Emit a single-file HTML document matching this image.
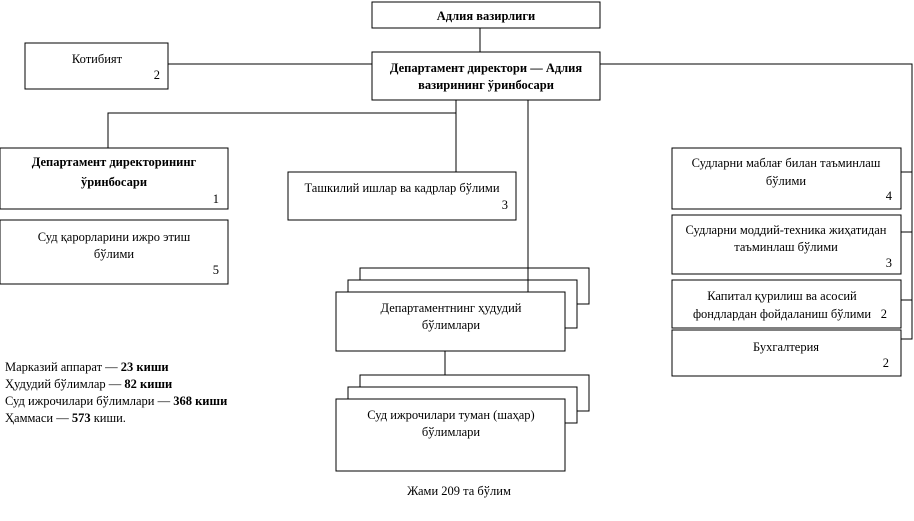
<!DOCTYPE html>
<html><head><meta charset="utf-8"><style>
html,body{margin:0;padding:0;background:#fff;width:914px;height:521px;overflow:hidden}
svg{display:block}
text{font-family:"Liberation Serif",serif;font-size:12.5px;fill:#000}
.b{font-weight:bold}
</style></head><body>
<svg width="914" height="521" viewBox="0 0 914 521" xmlns="http://www.w3.org/2000/svg">
<g fill="#fff" stroke="#000" stroke-width="1">
<line x1="480" y1="28" x2="480" y2="52"/>
<line x1="168" y1="64" x2="372" y2="64"/>
<polyline points="600,64 912,64 912,339 901,339" fill="none"/>
<line x1="901" y1="172" x2="912" y2="172"/>
<line x1="901" y1="232" x2="912" y2="232"/>
<line x1="901" y1="300" x2="912" y2="300"/>
<polyline points="456,100 456,113 108,113 108,148" fill="none"/>
<line x1="456" y1="113" x2="456" y2="172"/>
<line x1="445" y1="351" x2="445" y2="375"/>
<rect x="372" y="2" width="228" height="26"/>
<rect x="372" y="52" width="228" height="48"/>
<rect x="25" y="43" width="143" height="46"/>
<rect x="0" y="148" width="228" height="61"/>
<rect x="0" y="220" width="228" height="64"/>
<rect x="288" y="172" width="228" height="48"/>
<rect x="672" y="148" width="229" height="61"/>
<rect x="672" y="215" width="229" height="59"/>
<rect x="672" y="280" width="229" height="48"/>
<rect x="672" y="330" width="229" height="46"/>
<rect x="360" y="268" width="229" height="36"/>
<rect x="348" y="280" width="229" height="48"/>
<rect x="336" y="292" width="229" height="59"/>
<line x1="528" y1="100" x2="528" y2="292"/>
<rect x="360" y="375" width="229" height="36"/>
<rect x="348" y="387" width="229" height="36"/>
<rect x="336" y="399" width="229" height="72"/>
</g>
<g text-anchor="middle">
<text class="b" x="486" y="20">Адлия вазирлиги</text>
<text class="b" x="486" y="72">Департамент директори — Адлия</text>
<text class="b" x="486" y="89">вазирининг ўринбосари</text>
<text x="97" y="63">Котибият</text>
<text class="b" x="114" y="166">Департамент директорининг</text>
<text class="b" x="114" y="186">ўринбосари</text>
<text x="114" y="241">Суд қарорларини ижро этиш</text>
<text x="114" y="258">бўлими</text>
<text x="402" y="192">Ташкилий ишлар ва кадрлар бўлими</text>
<text x="786" y="167">Судларни маблағ билан таъминлаш</text>
<text x="786" y="185">бўлими</text>
<text x="786" y="234">Судларни моддий-техника жиҳатидан</text>
<text x="786" y="251">таъминлаш бўлими</text>
<text x="782" y="300">Капитал қурилиш ва асосий</text>
<text x="782" y="318">фондлардан фойдаланиш бўлими</text>
<text x="786" y="351">Бухгалтерия</text>
<text x="451" y="312">Департаментнинг ҳудудий</text>
<text x="451" y="329">бўлимлари</text>
<text x="451" y="419">Суд ижрочилари туман (шаҳар)</text>
<text x="451" y="436">бўлимлари</text>
<text x="459" y="495">Жами 209 та бўлим</text>
</g>
<g text-anchor="end">
<text x="160" y="79">2</text>
<text x="219" y="203">1</text>
<text x="219" y="274">5</text>
<text x="508" y="209">3</text>
<text x="892" y="200">4</text>
<text x="892" y="267">3</text>
<text x="887" y="318">2</text>
<text x="889" y="367">2</text>
</g>
<text x="5" y="371">Марказий аппарат — <tspan class="b">23 киши</tspan></text>
<text x="5" y="388">Ҳудудий бўлимлар — <tspan class="b">82 киши</tspan></text>
<text x="5" y="405">Суд ижрочилари бўлимлари — <tspan class="b">368 киши</tspan></text>
<text x="5" y="422">Ҳаммаси — <tspan class="b">573</tspan> киши.</text>
</svg>
</body></html>
